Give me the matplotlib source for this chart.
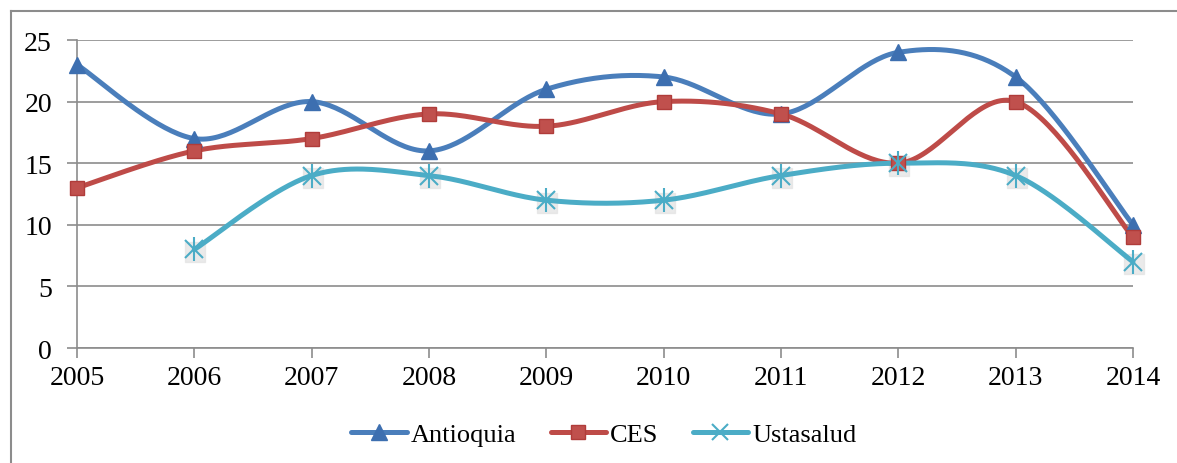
import numpy as np
import matplotlib
matplotlib.use('Agg')
import matplotlib.pyplot as plt
from matplotlib.lines import Line2D

years = [2005, 2006, 2007, 2008, 2009, 2010, 2011, 2012, 2013, 2014]
antioquia = [23, 17, 20, 16, 21, 22, 19, 24, 22, 10]
ces = [13, 16, 17, 19, 18, 20, 19, 15, 20, 9]
ustasalud = [None, 8, 14, 14, 12, 12, 14, 15, 14, 7]

plt.rcParams['font.family'] = ['Liberation Serif', 'DejaVu Serif']


def smooth(xs, ys, n=40):
    # Excel-like smoothed line: cubic bezier with catmull-rom tangents
    pts = np.array(list(zip(xs, ys)), dtype=float)
    out = [pts[0]]
    for i in range(len(pts) - 1):
        p0 = pts[i - 1] if i > 0 else pts[i]
        p1 = pts[i]
        p2 = pts[i + 1]
        p3 = pts[i + 2] if i + 2 < len(pts) else pts[i + 1]
        c1 = p1 + (p2 - p0) / 6.0
        c2 = p2 - (p3 - p1) / 6.0
        t = np.linspace(0, 1, n)[1:, None]
        seg = ((1 - t) ** 3) * p1 + 3 * ((1 - t) ** 2) * t * c1 + 3 * (1 - t) * t ** 2 * c2 + t ** 3 * p2
        out.extend(seg)
    out = np.array(out)
    return out[:, 0], out[:, 1]


fig = plt.figure(figsize=(11.77, 4.64), dpi=100)
ax = fig.add_axes([0.0654, 0.2478, 0.8972, 0.6638])

x = np.arange(len(years))

blue = '#4a7ebb'
red = '#be4b48'
cyan = '#4bacc6'
lw = 3.6
fs = 20

# Antioquia
sx, sy = smooth(x, antioquia)
ax.plot(sx, sy, color=blue, lw=lw, solid_capstyle='round', zorder=3)
ax.plot(x, antioquia, ls='none', marker='^', ms=12, color='#3d6fb0', zorder=4)

# CES
sx, sy = smooth(x, ces)
ax.plot(sx, sy, color=red, lw=lw, solid_capstyle='round', zorder=3)
ax.plot(x, ces, ls='none', marker='s', ms=9.5, color='#c0504d', mec='#b03c3a', zorder=4)

# Ustasalud
ux = [i for i, v in enumerate(ustasalud) if v is not None]
uy = [v for v in ustasalud if v is not None]
sx, sy = smooth(ux, uy)
ax.plot(sx, sy, color=cyan, lw=lw, solid_capstyle='round', zorder=3)
ax.plot(np.array(ux) + 0.01, np.array(uy) - 0.2, ls='none', marker='s', ms=15,
        color='#e2e2e2', alpha=0.7, zorder=2)
ax.plot(ux, uy, ls='none', marker='x', ms=13, mew=1.5, color=cyan, zorder=4)
ax.plot(ux, uy, ls='none', marker='|', ms=17, mew=1.5, color=cyan, zorder=4)

ax.set_xlim(0, 9)
ax.set_ylim(0, 25)
ax.set_yticks([0, 5, 10, 15, 20, 25])
ax.set_xticks(x)
ax.set_xticklabels([str(y) for y in years])
ax.yaxis.grid(True, color='#8c8c8c', lw=1.2)
ax.set_axisbelow(True)
for s in ['top', 'right']:
    ax.spines[s].set_visible(False)
for s in ['left', 'bottom']:
    ax.spines[s].set_color('#8c8c8c')
    ax.spines[s].set_linewidth(1.2)
ax.tick_params(axis='both', colors='#8c8c8c', labelcolor='black', labelsize=fs,
               length=7, width=1.2)
ax.tick_params(axis='x', pad=5)
ax.tick_params(axis='y', pad=11)
for ln in ax.lines:
    ln.set_clip_on(False)

handles = [
    Line2D([], [], color=blue, lw=lw, marker='^', ms=12, mfc='#3d6fb0', mec='#3d6fb0', solid_capstyle='round'),
    Line2D([], [], color=red, lw=lw, marker='s', ms=9.5, mfc='#c0504d', mec='#b03c3a', solid_capstyle='round'),
    Line2D([], [], color=cyan, lw=lw, marker='x', ms=11, mew=1.5, solid_capstyle='round'),
]
fig.legend(handles, ['Antioquia', 'CES', 'Ustasalud'], loc='center', bbox_to_anchor=(0.513, 0.062),
           ncol=3, frameon=False, fontsize=19, handlelength=2.1, handletextpad=0.15,
           columnspacing=1.3)

# outer frame (top and left edges visible)
fig.add_artist(Line2D([11 / 1177, 1.0], [1 - 12 / 464, 1 - 12 / 464], color='#8c8c8c', lw=1.5))
fig.add_artist(Line2D([11 / 1177, 11 / 1177], [0, 1 - 12 / 464], color='#8c8c8c', lw=1.5))

fig.savefig('out.png', dpi=100)
